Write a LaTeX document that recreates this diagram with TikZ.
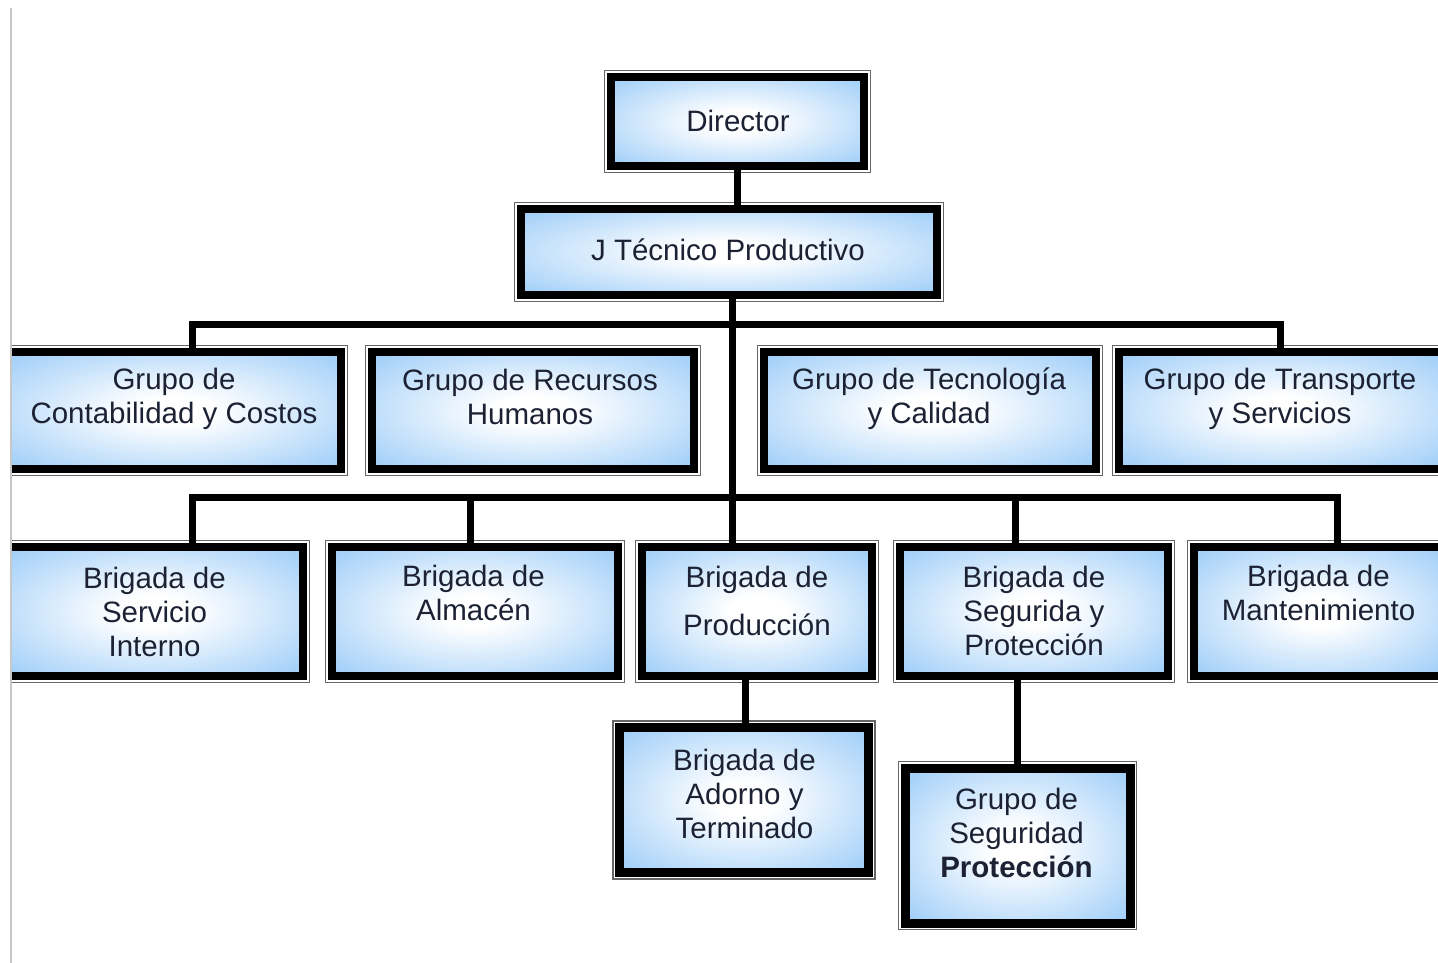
\documentclass[tikz,border=0pt]{standalone}
\usepackage{fontspec}
\setmainfont{Liberation Sans}
\definecolor{boxblue}{RGB}{140,196,247}
\definecolor{textnavy}{RGB}{28,33,52}
\pgfdeclareradialshading{boxglow}{\pgfpoint{0bp}{0bp}}{%
  color(0bp)=(white); color(6bp)=(white); color(40bp)=(boxblue); color(72bp)=(boxblue)}
\newcommand\orgfont{\fontsize{29.5pt}{34pt}\selectfont}
\newcommand\orgframe[1]{%
  \draw[outline] ([shift={(-6.5pt,6.5pt)}]#1.north west) rectangle ([shift={(6.5pt,-6.5pt)}]#1.south east);}
\tikzset{
  orgbox/.style={rectangle, draw=black, line width=8pt, shade, shading=boxglow,
    inner sep=0pt, outer sep=0pt},
  outline/.style={draw=black!60, line width=1.3pt},
  link/.style={draw=black, line width=7pt, line cap=butt, line join=miter},
  lbl/.style={font=\orgfont, text=textnavy, align=center, inner sep=0pt},
}
\begin{document}
\begin{tikzpicture}[x=1pt,y=-1pt]
\useasboundingbox (0,0) rectangle (1438,963);
\draw[black!22, line width=2pt] (11,8) -- (11,963);

\begin{scope}
\clip (12,0) rectangle (1438,963);

% junction points of the connectors
\coordinate (trunk) at (732,0);
\coordinate (busAw) at (192,324);
\coordinate (busAe) at (1280,324);
\coordinate (busBw) at (192,497);
\coordinate (busBe) at (1337,497);
\coordinate (dropB2) at (470,497);
\coordinate (dropB4) at (1015,497);
\coordinate (dropAd) at (745,0);
\coordinate (dropGs) at (1017,0);

% boxes
\node[orgbox, minimum width=253, minimum height=89]  (dir) at (737.5,121.5) {};
\node[orgbox, minimum width=416, minimum height=86]  (jtp) at (729,252) {};

\node[orgbox, minimum width=334, minimum height=117] (g1) at (174,410.5) {};
\node[orgbox, minimum width=322, minimum height=117] (g2) at (533,410.5) {};
\node[orgbox, minimum width=332, minimum height=117] (g3) at (930,410.5) {};
\node[orgbox, minimum width=323, minimum height=117] (g4) at (1280.5,410.5) {};

\node[orgbox, minimum width=297, minimum height=129] (b1) at (154.5,611.5) {};
\node[orgbox, minimum width=286, minimum height=129] (b2) at (475,611.5) {};
\node[orgbox, minimum width=230, minimum height=129] (b3) at (757,611.5) {};
\node[orgbox, minimum width=268, minimum height=129] (b4) at (1034,611.5) {};
\node[orgbox, minimum width=249, minimum height=129] (b5) at (1318.5,611.5) {};

\node[orgbox, line width=9pt, minimum width=249, minimum height=145] (ad) at (744,800) {};
\node[orgbox, line width=9pt, minimum width=225, minimum height=155] (gs) at (1017.5,845.5) {};

\foreach \b in {dir,jtp,g1,g2,g3,g4,b1,b2,b3,b4,b5,ad,gs}{\orgframe{\b}}

% connectors
\draw[link] (dir.south) -- (dir.south |- jtp.north);
\draw[link] (jtp.south -| trunk) -- (b3.north -| trunk);
\draw[link] (g1.north -| busAw) -- (busAw) -- (busAe) -- (g4.north -| busAe);
\draw[link] (b1.north -| busBw) -- (busBw) -- (busBe) -- (b5.north -| busBe);
\draw[link] (dropB2) -- (b2.north -| dropB2);
\draw[link] (dropB4) -- (b4.north -| dropB4);
\draw[link] (b3.south -| dropAd) -- (ad.north -| dropAd);
\draw[link] (b4.south -| dropGs) -- (gs.north -| dropGs);

% labels
\node[lbl] (dir-t) at (738,121) {Director};
\node[lbl] (jtp-t) at (728,250) {J Técnico Productivo};
\node[lbl] (g1-t) at (174,399) {Grupo de\\Contabilidad y Costos};
\node[lbl] (g2-t) at (530,397) {Grupo de Recursos\\Humanos};
\node[lbl] (g3-t) at (929,399) {Grupo de Tecnología\\y Calidad};
\node[lbl] (g4-t) at (1280,399) {Grupo de Transporte\\y Servicios};
\node[lbl] (b1-t) at (154.5,612) {Brigada de\\Servicio\\Interno};
\node[lbl] (b2-t) at (473.5,593) {Brigada de\\Almacén};
\node[lbl] (b3-t) at (757,601) {Brigada de\\[14pt]Producción};
\node[lbl] (b4-t) at (1034,611) {Brigada de\\Segurida y\\Protección};
\node[lbl] (b5-t) at (1318.5,593) {Brigada de\\Mantenimiento};
\node[lbl] (ad-t) at (744.5,794) {Brigada de\\Adorno y\\Terminado};
\node[lbl] (gs-t) at (1016.5,833) {Grupo de\\Seguridad\\\textbf{Protección}};
\end{scope}
\end{tikzpicture}
\end{document}
